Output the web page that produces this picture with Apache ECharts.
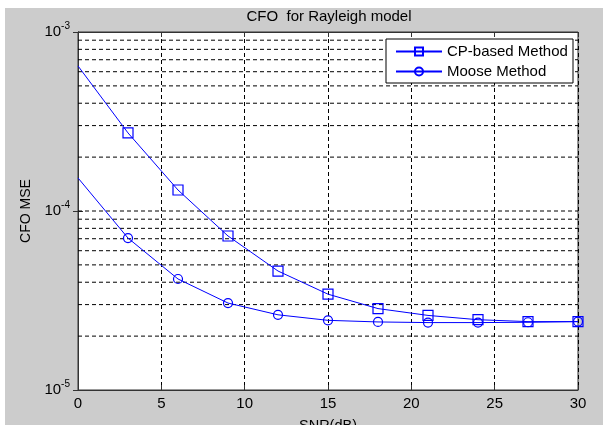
<!DOCTYPE html>
<html>
<head>
<meta charset="utf-8">
<script src="https://cdn.jsdelivr.net/npm/echarts@6/dist/echarts.min.js"></script>
<style>html,body{margin:0;padding:0;background:#fff}#c{width:603px;height:425px}</style>
</head>
<body>
<div id="c"></div>
<script>
// ---- data ----
const snr = [0, 3, 6, 9, 12, 15, 18, 21, 24, 27, 30];
const cpBased = [6.46e-4, 2.73e-4, 1.31e-4, 7.25e-5, 4.62e-5, 3.43e-5, 2.85e-5, 2.61e-5, 2.47e-5, 2.41e-5, 2.41e-5];
const moose = [1.53e-4, 7.06e-5, 4.17e-5, 3.06e-5, 2.63e-5, 2.45e-5, 2.40e-5, 2.38e-5, 2.38e-5, 2.39e-5, 2.41e-5];
const seriesNames = ['CP-based Method', 'Moose Method'];
const gridValues = [2e-5,3e-5,4e-5,5e-5,6e-5,7e-5,8e-5,9e-5,1e-4,2e-4,3e-4,4e-4,5e-4,6e-4,7e-4,8e-4,9e-4];
const xRange = [0, 30];

const FONT = "'Liberation Sans', Arial, sans-serif";
const BLUE = '#0000ff';

function pts(arr) {
  return snr.map((x, i) => i === 0 ? { value: [x, arr[i]], symbol: 'none' } : [x, arr[i]]);
}

// horizontal log-grid lines built from gridValues (broken between lines)
const gridLineData = [];
gridValues.forEach(v => {
  gridLineData.push([xRange[0], v], [xRange[1], v], [xRange[1], '-']);
});

const chart = echarts.init(document.getElementById('c'), null, { renderer: 'canvas' });
chart.setOption({
  animation: false,
  backgroundColor: '#cccccc',
  textStyle: { fontFamily: FONT },
  title: {
    text: 'CFO  for Rayleigh model',
    left: 329, textAlign: 'center', top: 9, padding: 0,
    textStyle: { fontFamily: FONT, fontSize: 15, fontWeight: 'normal', color: '#000' }
  },
  graphic: [
    { type: 'rect', shape: { x: 0, y: 0, width: 603, height: 8 }, style: { fill: '#fff' }, z: -1, silent: true },
    { type: 'rect', shape: { x: 0, y: 0, width: 5, height: 425 }, style: { fill: '#fff' }, z: -1, silent: true },
    { type: 'rect', shape: { x: 386, y: 39, width: 187, height: 44 }, style: { fill: '#fff', stroke: '#000', lineWidth: 1 }, z: 50, silent: true }
  ],
  legend: {
    orient: 'vertical', left: 395, top: 44, padding: 0, z: 60,
    itemWidth: 46, itemHeight: 10, itemGap: 5,
    data: seriesNames,
    textStyle: { fontFamily: FONT, fontSize: 15, color: '#000', lineHeight: 15 }
  },
  grid: {
    left: 78, right: 25, top: 32, bottom: 35,
    outerBoundsMode: 'none', containLabel: false,
    show: true, backgroundColor: '#fff', borderColor: '#333', borderWidth: 1
  },
  xAxis: [{
    type: 'value', min: xRange[0], max: xRange[1], interval: 5,
    name: 'SNR(dB)', nameLocation: 'middle', nameGap: 28,
    nameTextStyle: { fontFamily: FONT, fontSize: 14.5, color: '#000' },
    axisLine: { show: true, lineStyle: { color: '#333' } },
    axisTick: { show: true, inside: true, length: 5, lineStyle: { color: '#333' } },
    axisLabel: { fontFamily: FONT, fontSize: 15, color: '#000', margin: 6 },
    splitLine: { show: true, lineStyle: { color: '#000', type: [4, 3], width: 1 } }
  }, {
    type: 'value', position: 'top', min: xRange[0], max: xRange[1], interval: 5,
    axisLine: { show: true, lineStyle: { color: '#333' } },
    axisTick: { show: true, inside: true, length: 5, lineStyle: { color: '#333' } },
    axisLabel: { show: false }, splitLine: { show: false }
  }],
  yAxis: [{
    type: 'log', logBase: 10, min: 1e-5, max: 1e-3,
    name: 'CFO MSE', nameLocation: 'middle', nameGap: 36,
    nameTextStyle: { fontFamily: FONT, fontSize: 14, color: '#000' },
    axisLine: { show: true, lineStyle: { color: '#333' } },
    axisTick: { show: true, inside: true, length: 5, lineStyle: { color: '#333' } },
    splitLine: { show: false },
    axisLabel: {
      margin: 8,
      formatter: v => '{b|10}{s|' + Math.round(Math.log10(v)) + '}',
      rich: {
        b: { fontFamily: FONT, fontSize: 15, color: '#000', verticalAlign: 'bottom', lineHeight: 15 },
        s: { fontFamily: FONT, fontSize: 10, color: '#000', verticalAlign: 'bottom', lineHeight: 10, padding: [0, 0, 8, 0] }
      }
    }
  }, {
    type: 'log', logBase: 10, min: 1e-5, max: 1e-3, position: 'right',
    axisLine: { show: true, lineStyle: { color: '#333' } },
    axisTick: { show: true, inside: true, length: 5, lineStyle: { color: '#333' } },
    axisLabel: { show: false }, splitLine: { show: false }
  }],
  series: [
    {
      name: '__grid', type: 'line', data: gridLineData, connectNulls: false,
      symbol: 'none', z: 1, silent: true,
      lineStyle: { color: '#000', type: [4, 3], width: 1 },
      emphasis: { disabled: true }
    },
    {
      name: seriesNames[0], type: 'line', data: pts(cpBased), z: 5,
      symbol: 'rect', symbolSize: 10,
      lineStyle: { color: BLUE, width: 1 },
      itemStyle: { color: 'rgba(0,0,0,0)', borderColor: BLUE, borderWidth: 1.2 }
    },
    {
      name: seriesNames[1], type: 'line', data: pts(moose), z: 5,
      symbol: 'circle', symbolSize: 9,
      lineStyle: { color: BLUE, width: 1 },
      itemStyle: { color: 'rgba(0,0,0,0)', borderColor: BLUE, borderWidth: 1.2 }
    }
  ]
});
</script>
</body>
</html>
